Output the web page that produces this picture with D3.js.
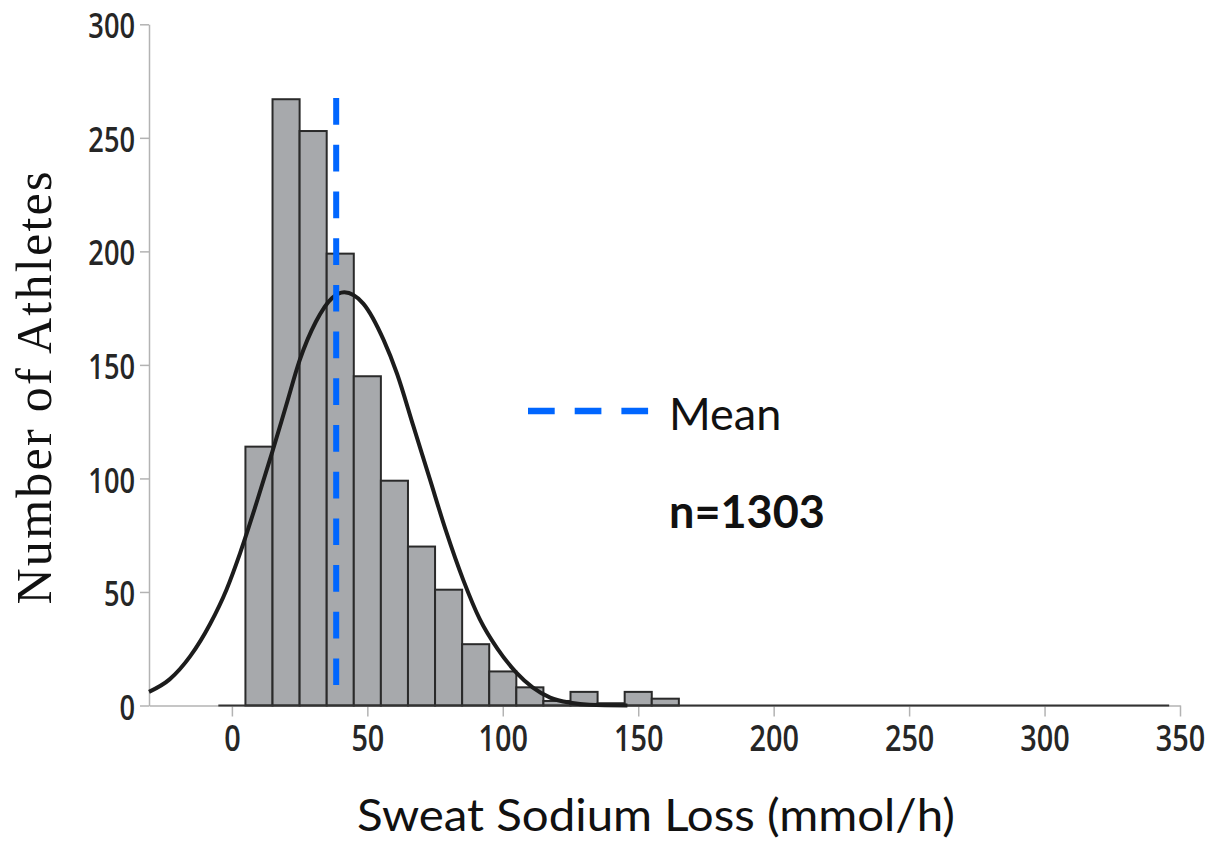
<!DOCTYPE html>
<html>
<head>
<meta charset="utf-8">
<script src="https://cdn.jsdelivr.net/npm/d3@7"></script>
<style>
  body { margin: 0; background: #fff; }
  .tick text { font-family: "Open Sans", "Liberation Sans", sans-serif; font-weight: 600; fill: #262626; }
</style>
</head>
<body>
<script>
// histogram bins (mmol/h), width 10
var binStarts = [5, 15, 25, 35, 45, 55, 65, 75, 85, 95, 105, 115, 125, 135, 145, 155];
var binCounts = [114, 267, 253, 199, 145, 99, 70, 51, 27, 15, 8, 2, 6, 1, 6, 3];
var binWidth = 10;

// fitted curve
var curveX = [-30.6, -23, -15.5, -8, -2, 3, 8.5, 15, 20, 25, 31, 37, 41.5, 48.5, 56, 61, 67, 73, 79, 85.5, 91.5, 98, 105, 111, 117.5, 125, 132, 146];
var curveY = [6, 11.5, 21.5, 36, 51, 67, 87, 112, 132, 152, 169, 179.5, 182, 177, 161, 146, 123, 100, 77, 55, 38, 25, 14.5, 8, 3.5, 1.2, 0.3, 0];

var meanValue = 38.5;
var meanSpan = [267.5, 9];
var baseSpan = [-5, 346];

var xTicks = [0, 50, 100, 150, 200, 250, 300, 350];
var yTicks = [0, 50, 100, 150, 200, 250, 300];

var w = 1212, h = 843,
    squeeze = 0.8;

var svg = d3.select("body").append("svg")
    .attr("width", w)
    .attr("height", h);

var x = d3.scaleLinear().domain([-30.6, 350]).range([149, 1180]);
var y = d3.scaleLinear().domain([0, 300]).range([705.5, 24.3]);

// axes
var yAxis = svg.append("g")
    .attr("transform", "translate(" + x(-30.6) + ",0)")
    .call(d3.axisLeft(y).tickValues(yTicks).tickSize(9).tickSizeOuter(0).tickPadding(5));
yAxis.selectAll("text")
    .style("font-size", "34px")
    .attr("dy", "0.4em")
    .attr("x", -14 / squeeze)
    .attr("transform", "scale(" + squeeze + ",1)");

var xAxis = svg.append("g")
    .attr("transform", "translate(0," + y(0) + ")")
    .call(d3.axisBottom(x).tickValues(xTicks).tickSize(11).tickSizeOuter(0).tickPadding(9));
xAxis.selectAll("text")
    .style("font-size", "36px")
    .attr("transform", "scale(" + squeeze + ",1)");

svg.selectAll(".domain, .tick line")
    .attr("stroke", "#b3b3b3")
    .attr("stroke-width", 1.5);

// bars
svg.selectAll(".bar")
    .data(binCounts)
  .enter().append("rect")
    .attr("class", "bar")
    .attr("x", function(d, i) { return x(binStarts[i]); })
    .attr("y", function(d) { return y(d); })
    .attr("width", function(d, i) { return x(binStarts[i] + binWidth) - x(binStarts[i]); })
    .attr("height", function(d) { return y(0) - y(d); })
    .attr("fill", "#a7a9ac")
    .attr("stroke", "#2a2a2a")
    .attr("stroke-width", 2);

// dark baseline under the histogram
svg.append("line")
    .attr("x1", x(baseSpan[0]))
    .attr("x2", x(baseSpan[1]))
    .attr("y1", y(0))
    .attr("y2", y(0))
    .attr("stroke", "#333")
    .attr("stroke-width", 2);

// fitted curve
var pts = curveX.map(function(v, i) { return [v, curveY[i]]; });
var line = d3.line()
    .x(function(d) { return x(d[0]); })
    .y(function(d) { return y(d[1]); })
    .curve(d3.curveMonotoneX);

svg.append("path")
    .datum(pts)
    .attr("d", line)
    .attr("fill", "none")
    .attr("stroke", "#1c1c1c")
    .attr("stroke-width", 4);

// mean line
svg.append("line")
    .attr("x1", x(meanValue))
    .attr("x2", x(meanValue))
    .attr("y1", y(meanSpan[0]))
    .attr("y2", y(meanSpan[1]))
    .attr("stroke", "#0066ff")
    .attr("stroke-width", 6)
    .style("stroke-dasharray", "26.7,20");

// legend
svg.append("line")
    .attr("x1", 528)
    .attr("x2", 649)
    .attr("y1", 411)
    .attr("y2", 411)
    .attr("stroke", "#0066ff")
    .attr("stroke-width", 6.5)
    .style("stroke-dasharray", "26.7,20");

svg.append("text")
    .attr("x", 669)
    .attr("y", 430)
    .style("font-family", "Lato, 'Open Sans', sans-serif")
    .style("font-size", "45px")
    .style("fill", "#111")
    .text("Mean");

svg.append("text")
    .attr("x", 669)
    .attr("y", 528)
    .style("font-family", "Lato, 'Open Sans', sans-serif")
    .style("font-size", "45px")
    .style("font-weight", "bold")
    .style("fill", "#111")
    .text("n=1303");

// axis titles
svg.append("text")
    .attr("x", 656)
    .attr("y", 831)
    .attr("text-anchor", "middle")
    .attr("textLength", 598)
    .attr("lengthAdjust", "spacingAndGlyphs")
    .style("font-family", "Lato, 'Open Sans', sans-serif")
    .style("font-size", "45px")
    .style("fill", "#111")
    .text("Sweat Sodium Loss (mmol/h)");

svg.append("text")
    .attr("transform", "translate(51,388) rotate(-90)")
    .attr("text-anchor", "middle")
    .attr("textLength", 433)
    .attr("lengthAdjust", "spacing")
    .style("font-family", "'Liberation Serif', 'Times New Roman', serif")
    .style("font-size", "50px")
    .style("fill", "#111")
    .text("Number of Athletes");
</script>
</body>
</html>
